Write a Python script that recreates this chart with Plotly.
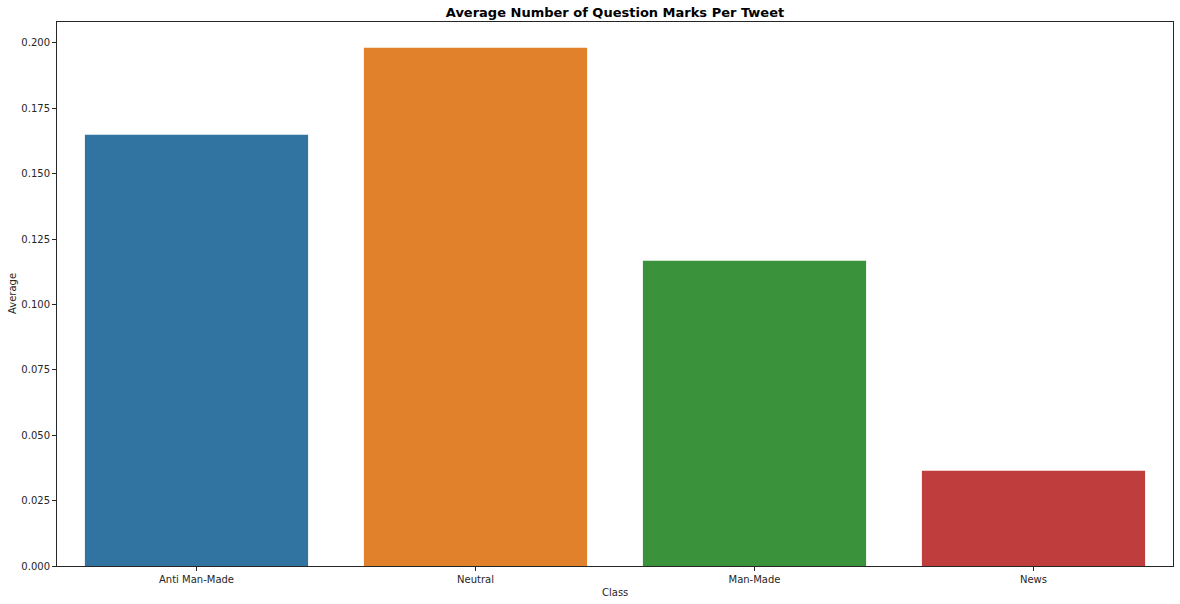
import plotly.graph_objects as go

# values
classes = ["Anti Man-Made", "Neutral", "Man-Made", "News"]
averages = [0.1649, 0.1982, 0.1167, 0.0364]
bar_colors = ["#3274a1", "#e1812c", "#3a923a", "#c03d3e"]
y_ticks = [0.0, 0.025, 0.05, 0.075, 0.1, 0.125, 0.15, 0.175, 0.2]

font = dict(family="DejaVu Sans", size=10, color="#262626")

fig = go.Figure(go.Bar(x=classes, y=averages, marker=dict(color=bar_colors, line=dict(width=0))))

fig.update_layout(
    width=1180,
    height=604,
    paper_bgcolor="white",
    plot_bgcolor="white",
    font=font,
    showlegend=False,
    bargap=0.2,
    margin=dict(l=57, r=7, t=22, b=38),
    title=dict(text="<b>Average Number of Question Marks Per Tweet</b>",
               x=0.5, xref="paper", y=1, yref="paper", yanchor="bottom",
               pad=dict(b=5), font=dict(family="DejaVu Sans", size=13, color="black")),
    # axis titles placed by hand so they sit where the reference has them
    annotations=[
        dict(text="Average", textangle=-90, xref="paper", yref="paper",
             x=0, y=0.5, xanchor="center", yanchor="middle", xshift=-45,
             showarrow=False, font=font),
        dict(text="Class", xref="paper", yref="paper",
             x=0.5, y=0, xanchor="center", yanchor="middle", yshift=-26,
             showarrow=False, font=font),
    ],
)

fig.update_xaxes(
    showline=True, linecolor="#262626", linewidth=1, mirror=True,
    ticks="outside", ticklen=4, tickcolor="#262626",
    showgrid=False, zeroline=False, automargin=False,
)
fig.update_yaxes(
    range=[0, 0.208],
    tickvals=y_ticks, tickformat=".3f",
    showline=True, linecolor="#262626", linewidth=1, mirror=True,
    ticks="outside", ticklen=4, tickcolor="#262626",
    showgrid=False, zeroline=False, automargin=False,
)

# drop the browser's default body margin so the figure sits at the top-left corner
fig.write_html("out.html", config={"displayModeBar": False},
               post_script="document.body.style.margin='0';")
